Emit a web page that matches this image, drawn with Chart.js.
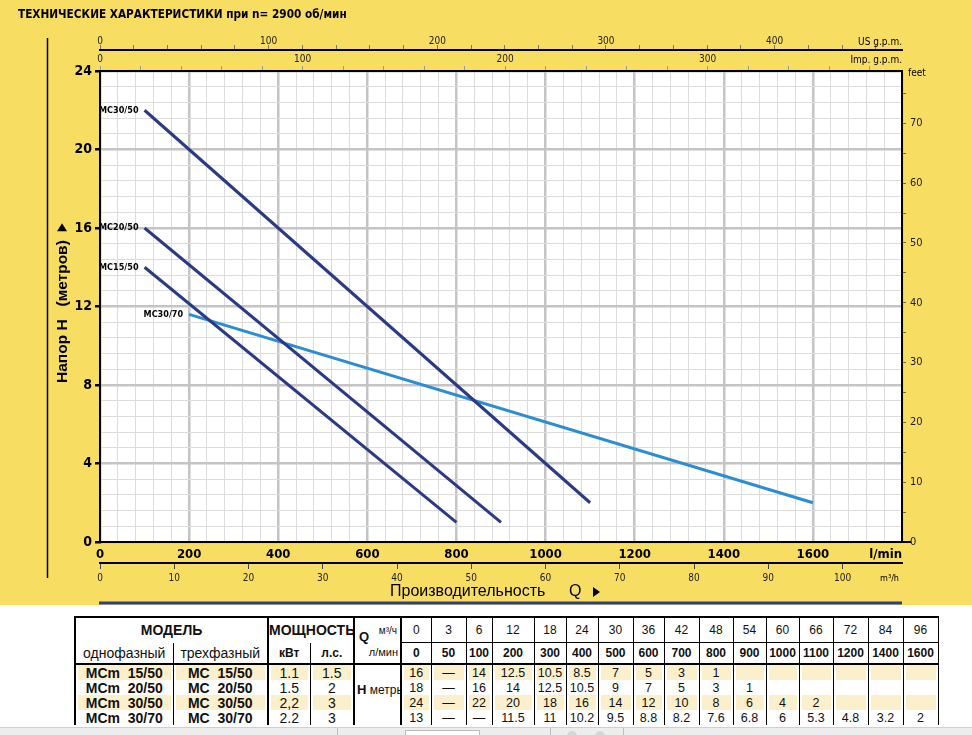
<!DOCTYPE html>
<html><head><meta charset="utf-8">
<script src="https://cdn.jsdelivr.net/npm/chart.js@4.4.0/dist/chart.umd.min.js"></script>
<style>
html,body{margin:0;padding:0;background:#fff;width:972px;height:735px;overflow:hidden;font-family:'Liberation Sans',Arial,sans-serif;}
#top{position:absolute;left:0;top:0;width:972px;height:605px;background:#F8DD63;}
#c{position:absolute;left:0;top:0;}
table{position:absolute;left:74px;top:616px;border-collapse:collapse;table-layout:fixed;width:863px;color:#111;}
td{padding:0;text-align:center;font-size:12px;line-height:14px;white-space:nowrap;overflow:hidden;}
tr.h1 td{height:24px;}
tr.h2 td{height:20px;}
tr.d td{height:15px;font-size:12.5px;}
.b{font-weight:bold;}
.big{font-size:14px !important;}
.L2{border-left:2px solid #000;}
.R2{border-right:2px solid #000;}
.R1{border-right:1px solid #000;}
.T2{border-top:2px solid #000;}
.B1{border-bottom:1px solid #000;}
.B2{border-bottom:2px solid #000;}
tr.beige td.bg{background:#FCEFCB;box-shadow:inset 2px 0 0 #fff,inset -2px 0 0 #fff;}
.qcell{position:relative;}
.qcell .q{position:absolute;left:4px;top:12px;font-weight:bold;font-size:13px;}
.qcell .m3{position:absolute;right:3px;top:6px;font-size:10px;}
.qcell .lm{position:absolute;right:2px;bottom:4px;font-size:11px;}
#bar{position:absolute;left:0;top:727px;width:972px;height:8px;background:#EDEDED;border-top:1px solid #cfcfcf;}
#bar div{position:absolute;}
</style></head>
<body>
<div id="top"><canvas id="c" width="972" height="605"></canvas></div>
<table id="tbl"></table>
<div id="bar">
  <div style="left:337px;top:0;width:1px;height:8px;background:#bdbdbd"></div>
  <div style="left:405px;top:2px;width:73px;height:8px;background:#fff;border:1px solid #bbb"></div>
  <div style="left:550px;top:0;width:1px;height:8px;background:#bdbdbd"></div>
  <div style="left:567px;top:3px;width:10px;height:10px;border-radius:5px;background:#d6d6d6"></div>
  <div style="left:595px;top:3px;width:10px;height:10px;border-radius:5px;background:#d6d6d6"></div>
  <div style="left:623px;top:0;width:1px;height:8px;background:#bdbdbd"></div>
</div>
<script>
// ---- table data ----
const flowM3h = [0, 3, 6, 12, 18, 24, 30, 36, 42, 48, 54, 60, 66, 72, 84, 96];
const flowLpm = [0, 50, 100, 200, 300, 400, 500, 600, 700, 800, 900, 1000, 1100, 1200, 1400, 1600];
// null = "—" in the table; shorter arrays = blank cells
const headMC15_50 = [16, null, 14, 12.5, 10.5, 8.5, 7, 5, 3, 1];
const headMC20_50 = [18, null, 16, 14, 12.5, 10.5, 9, 7, 5, 3, 1];
const headMC30_50 = [24, null, 22, 20, 18, 16, 14, 12, 10, 8, 6, 4, 2];
const headMC30_70 = [13, null, null, 11.5, 11, 10.2, 9.5, 8.8, 8.2, 7.6, 6.8, 6, 5.3, 4.8, 3.2, 2];
const modelsSingle = ['MCm  15/50', 'MCm  20/50', 'MCm  30/50', 'MCm  30/70'];
const modelsThree = ['MC  15/50', 'MC  20/50', 'MC  30/50', 'MC  30/70'];
const powerKW = ['1.1', '1.5', '2,2', '2.2'];
const powerHP = ['1.5', '2', '3', '3'];

// ---- curve data read from the plotted (straight) lines: Q l/min, H m ----
const curveNames = ['MC30/50', 'MC20/50', 'MC15/50', 'MC30/70'];
const qMC30_50 = [100, 1100], hMC30_50 = [22, 2];
const qMC20_50 = [100, 900],  hMC20_50 = [16, 1];
const qMC15_50 = [100, 800],  hMC15_50 = [14, 1];
const qMC30_70 = [200, 1600], hMC30_70 = [11.6, 2];

const yTicksM = [0, 4, 8, 12, 16, 20, 24];
const xTicksLpm = [0, 200, 400, 600, 800, 1000, 1200, 1400, 1600];

const M_TO_FT = 3.28084, LPM_US = 3.78541, LPM_IMP = 4.54609, LPM_M3H = 1000 / 60;
const XMAX = 1800, YMAX = 24;

const DARK = '#2A3A85', LIGHT = '#2B8DD3';
const FONT_C = "'Liberation Sans Narrow','DejaVu Sans Condensed','Liberation Sans',Arial,sans-serif";
const FONT = "'Liberation Sans',Arial,sans-serif";
const MAJOR = '#C4C4C4', MINOR = '#DCDCDC';

const curves = [[qMC30_50, hMC30_50], [qMC20_50, hMC20_50], [qMC15_50, hMC15_50], [qMC30_70, hMC30_70]];
const toPts = (q, h) => q.map((v, i) => ({x: v, y: h[i]}));

// ---- table ----
(function buildTable() {
  const allHeads = [headMC15_50, headMC20_50, headMC30_50, headMC30_70];
  const widths = [98, 95, 42, 44, 47, 30, 35, 26, 42, 32, 32, 35, 31, 35, 34, 33, 33, 34, 35, 35, 35];
  let h = '<colgroup>' + widths.map(w => `<col style="width:${w}px">`).join('') + '</colgroup>';
  h += '<tr class="h1"><td colspan="2" class="b big L2 T2 R2">МОДЕЛЬ</td><td colspan="2" class="b big T2 R2">МОЩНОСТЬ</td>' +
       '<td rowspan="2" class="qcell T2 R2 B2"><span class="q">Q</span><span class="m3">м³/ч</span><span class="lm">л/мин</span></td>' +
       flowM3h.map(v => `<td class="T2 B1 R1">${v}</td>`).join('') + '</tr>';
  h += '<tr class="h2"><td class="big L2 R1 B2">однофазный</td><td class="big R2 B2">трехфазный</td>' +
       '<td class="b R1 B2">кВт</td><td class="b R2 B2">л.с.</td>' +
       flowLpm.map(v => `<td class="b R1 B2">${v}</td>`).join('') + '</tr>';
  for (let r = 0; r < 4; r++) {
    const arr = allHeads[r];
    let row = `<tr class="d ${r % 2 === 0 ? 'beige' : ''}">`;
    row += `<td class="b big L2 R1 bg">${modelsSingle[r].replace(/ /g, '&nbsp;')}</td>`;
    row += `<td class="b big R2 bg">${modelsThree[r].replace(/ /g, '&nbsp;')}</td>`;
    row += `<td class="R1 bg big">${powerKW[r]}</td><td class="R2 bg big">${powerHP[r]}</td>`;
    if (r === 0) row += '<td rowspan="4" class="R2" style="text-align:left;padding-left:2px;vertical-align:middle;font-size:12px"><div style="margin-top:-10px"><b style="font-size:13px">H</b> метры</div></td>';
    for (let i = 0; i < flowLpm.length; i++) {
      let txt = '';
      if (i < arr.length) txt = arr[i] === null ? '—' : String(arr[i]);
      row += `<td class="R1 bg">${txt}</td>`;
    }
    row += '</tr>';
    h += row;
  }
  document.getElementById('tbl').innerHTML = h;
})();

// ---- chart ----
const isMult = (v, m) => Math.abs(Math.round(v * 1000) % Math.round(m * 1000)) === 0;

const decor = {
  id: 'decor',
  beforeDraw(chart) {
    const ctx = chart.ctx, a = chart.chartArea;
    ctx.save(); ctx.fillStyle = '#fff';
    ctx.fillRect(a.left, a.top, a.right - a.left, a.bottom - a.top);
    ctx.restore();
  },
  afterDraw(chart) {
    const ctx = chart.ctx, a = chart.chartArea;
    ctx.save();
    // left vertical rule
    ctx.strokeStyle = '#000'; ctx.lineWidth = 1.5;
    ctx.beginPath(); ctx.moveTo(47.5, 38); ctx.lineTo(47.5, 578); ctx.stroke();
    // title (condensed)
    ctx.fillStyle = '#000'; ctx.textBaseline = 'middle'; ctx.textAlign = 'left';
    ctx.save();
    ctx.translate(18, 15); ctx.scale(0.9, 1);
    ctx.font = `bold 13px ${FONT_C}`;
    ctx.fillText('ТЕХНИЧЕСКИЕ ХАРАКТЕРИСТИКИ при n= 2900 об/мин', 0, 0);
    ctx.restore();
    // unit labels
    ctx.font = `10px ${FONT_C}`; ctx.textAlign = 'right';
    ctx.fillText('US g.p.m.', a.right, 42);
    ctx.fillText('Imp. g.p.m.', a.right, 60);
    ctx.textAlign = 'left';
    ctx.fillText('feet', a.right + 6, 73);
    ctx.font = `bold 13px ${FONT_C}`; ctx.textAlign = 'right';
    ctx.fillText('l/min', a.right, 555);
    ctx.font = `9px ${FONT_C}`;
    ctx.fillText('m³/h', a.right - 3, 579);
    // bottom title
    ctx.font = `16px ${FONT}`; ctx.textAlign = 'left';
    ctx.fillText('Производительность', 390, 592);
    ctx.fillText('Q', 569, 592);
    ctx.beginPath(); ctx.moveTo(593, 587); ctx.lineTo(600, 592); ctx.lineTo(593, 597); ctx.closePath(); ctx.fill();
    // blue rule
    ctx.strokeStyle = '#2B3F8F'; ctx.lineWidth = 3;
    ctx.beginPath(); ctx.moveTo(a.left - 1, 603); ctx.lineTo(a.right, 603); ctx.stroke();
    // zero tick on right
    ctx.strokeStyle = '#000'; ctx.lineWidth = 2;
    ctx.beginPath(); ctx.moveTo(a.right, a.bottom); ctx.lineTo(a.right + 9, a.bottom); ctx.stroke();
    // rotated y title
    ctx.save();
    ctx.translate(67, 383); ctx.rotate(-Math.PI / 2);
    ctx.font = `bold 15.5px ${FONT}`; ctx.textAlign = 'left'; ctx.textBaseline = 'alphabetic';
    const t = 'Напор H   (метров)';
    ctx.fillText(t, 0, 0);
    const w = ctx.measureText(t).width;
    ctx.beginPath(); ctx.moveTo(w + 9, -10); ctx.lineTo(w + 17, -5); ctx.lineTo(w + 9, 0); ctx.closePath(); ctx.fill();
    ctx.restore();
    // curve labels
    ctx.font = `bold 9px ${FONT_C}`; ctx.textAlign = 'right'; ctx.textBaseline = 'middle'; ctx.fillStyle = '#000';
    chart.data.datasets.forEach((ds, i) => {
      const p = chart.getDatasetMeta(i).data[0];
      ctx.fillText(ds.label, p.x - 6, p.y);
    });
    ctx.restore();
  }
};

const tickFont = (size, bold) => ({family: FONT_C, size, weight: bold ? 'bold' : 'normal'});

new Chart(document.getElementById('c'), {
  type: 'line',
  data: {
    datasets: curves.map((c, i) => ({
      label: curveNames[i],
      data: toPts(c[0], c[1]),
      borderColor: i === 3 ? LIGHT : DARK,
      borderWidth: 3,
      pointRadius: 0,
      tension: 0,
      fill: false,
      xAxisID: 'x', yAxisID: 'y'
    }))
  },
  options: {
    responsive: false, animation: false,
    layout: {padding: {left: 0, right: 0, top: 0, bottom: 12}},
    plugins: {legend: {display: false}, tooltip: {enabled: false}},
    scales: {
      x: {
        type: 'linear', position: 'bottom', weight: 0, min: 0, max: XMAX,
        ticks: {stepSize: 40, autoSkip: false, maxRotation: 0, includeBounds: false, maxTicksLimit: 1000, padding: 5, color: '#000',
          font: tickFont(13, true), callback: v => xTicksLpm.includes(v) ? String(v) : ''},
        grid: {color: c => isMult(c.tick.value, 200) ? MAJOR : MINOR, lineWidth: c => isMult(c.tick.value, 200) ? 2.5 : 1, drawTicks: false},
        border: {display: true, color: '#000', width: 2},
        afterFit: s => { s.height = 21; }
      },
      m3h: {
        type: 'linear', position: 'bottom', weight: 1, min: 0, max: XMAX / LPM_M3H,
        ticks: {stepSize: 10, autoSkip: false, maxRotation: 0, includeBounds: false, maxTicksLimit: 1000, padding: 3, color: '#222',
          font: tickFont(10, false), callback: v => String(v)},
        grid: {drawOnChartArea: false, tickLength: 6, tickColor: '#444', lineWidth: 1},
        border: {display: true, color: '#000', width: 2},
        afterFit: s => { s.height = 30; }
      },
      imp: {
        type: 'linear', position: 'top', weight: 0, min: 0, max: XMAX / LPM_IMP,
        ticks: {stepSize: 20, autoSkip: false, maxRotation: 0, includeBounds: false, maxTicksLimit: 1000, padding: 1, color: '#222',
          font: tickFont(10, false), callback: v => isMult(v, 100) ? String(v) : ''},
        grid: {drawOnChartArea: false, tickLength: 5, tickColor: '#999', lineWidth: 1},
        border: {display: true, color: '#000', width: 2},
        afterFit: s => { s.height = 21; }
      },
      us: {
        type: 'linear', position: 'top', weight: 1, min: 0, max: XMAX / LPM_US,
        ticks: {stepSize: 20, autoSkip: false, maxRotation: 0, includeBounds: false, maxTicksLimit: 1000, padding: -2, color: '#222',
          font: tickFont(10, false), callback: v => isMult(v, 100) ? String(v) : ''},
        grid: {drawOnChartArea: false, tickLength: 5, tickColor: '#777', lineWidth: 1},
        border: {display: true, color: '#000', width: 2},
        afterFit: s => { s.height = 50; }
      },
      y: {
        type: 'linear', position: 'left', min: 0, max: YMAX,
        ticks: {stepSize: 0.8, autoSkip: false, includeBounds: false, maxTicksLimit: 1000, padding: 3, color: '#000',
          font: tickFont(14, true), callback: v => yTicksM.some(t => Math.abs(t - v) < 1e-6) ? String(Math.round(v)) : ''},
        grid: {color: c => isMult(c.tick.value, 4) ? MAJOR : MINOR, lineWidth: c => isMult(c.tick.value, 4) ? 2.5 : 1,
          tickLength: 5, tickColor: c => isMult(c.tick.value, 4) ? '#000' : 'rgba(0,0,0,0)'},
        border: {display: true, color: '#000', width: 2},
        afterFit: s => { s.width = 100; }
      },
      feet: {
        type: 'linear', position: 'right', min: 0, max: YMAX * M_TO_FT,
        ticks: {stepSize: 5, autoSkip: false, includeBounds: false, maxTicksLimit: 1000, padding: 4, color: '#222',
          font: tickFont(11, false), callback: v => isMult(v, 10) ? String(v) : ''},
        grid: {drawOnChartArea: false, tickLength: 4, tickColor: '#666', lineWidth: 1},
        border: {display: true, color: '#000', width: 2},
        afterFit: s => { s.width = 70; }
      }
    }
  },
  plugins: [decor]
});
</script>
</body></html>
